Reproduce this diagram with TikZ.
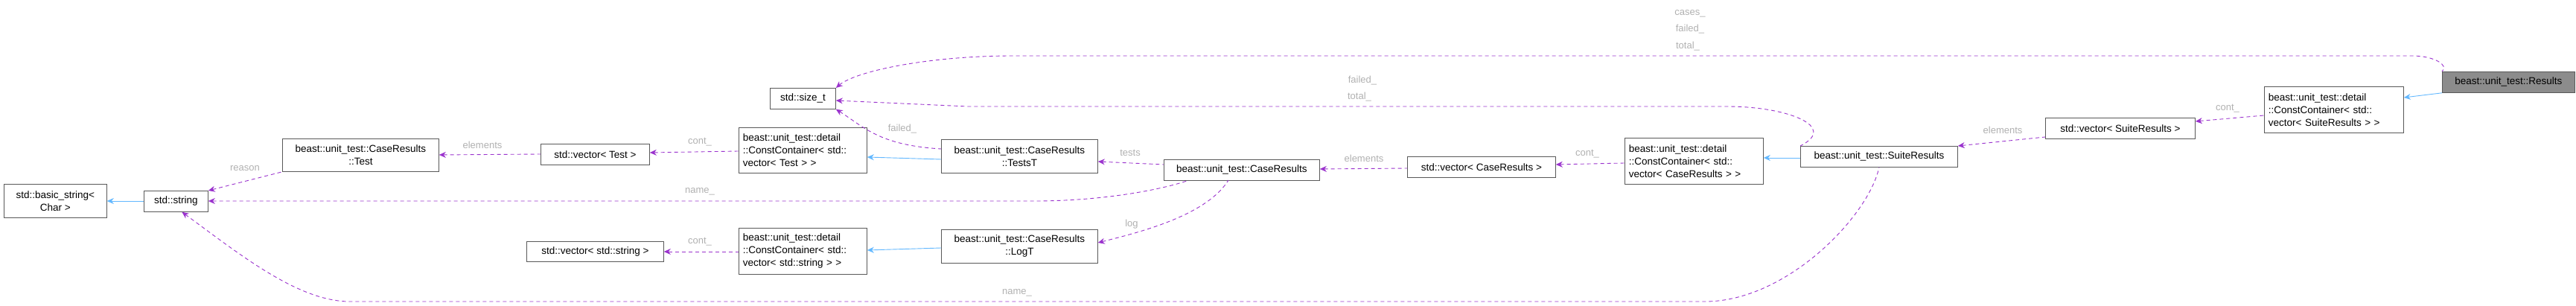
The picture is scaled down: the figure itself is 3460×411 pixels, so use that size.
\documentclass[tikz,border=0pt]{standalone}
\usepackage{fontspec}
\setmainfont{Liberation Sans}
\usetikzlibrary{arrows.meta}
\definecolor{dep}{HTML}{9A32CD}
\definecolor{inh}{HTML}{63B8FF}
\definecolor{lab}{HTML}{B0B0B0}
\begin{document}
\begin{tikzpicture}[x=1pt,y=-1pt,
  box/.style={draw=black!65,fill=white,line width=0.8pt,anchor=north west,inner sep=0pt,align=left,font=\fontsize{13.5}{17}\selectfont},
  dp/.style={draw=dep,dashed,dash pattern=on 5pt off 4pt,line width=0.9pt,{Stealth[length=9pt,width=8pt]}-},
  ih/.style={draw=inh,line width=0.9pt,{Stealth[length=9pt,width=8pt]}-},
  lb/.style={text=lab,font=\fontsize{13}{15}\selectfont,inner sep=0pt}]
\useasboundingbox (0,0) rectangle (3460,411);
\node[box,fill=black!45,minimum width=178,minimum height=28,align=center] (res) at (3280,96) {beast::unit\_test::Results};
\node[box,minimum width=187,minimum height=62,text width=186] (ccs) at (3041,116) {\hspace*{5pt}beast::unit\_test::detail\\\hspace*{5pt}::ConstContainer< std::\\\hspace*{5pt}vector< SuiteResults > >};
\node[box,minimum width=201,minimum height=28,align=center] (vs) at (2747,158) {std::vector< SuiteResults >};
\node[box,minimum width=211,minimum height=28,align=center] (sr) at (2418,196) {beast::unit\_test::SuiteResults};
\node[box,minimum width=186,minimum height=62,text width=185] (ccc) at (2182,185) {\hspace*{5pt}beast::unit\_test::detail\\\hspace*{5pt}::ConstContainer< std::\\\hspace*{5pt}vector< CaseResults > >};
\node[box,minimum width=199,minimum height=28,align=center] (vc) at (1890,210) {std::vector< CaseResults >};
\node[box,minimum width=209,minimum height=28,align=center] (cr) at (1563,214) {beast::unit\_test::CaseResults};
\node[box,minimum width=210,minimum height=45,align=center] (tt) at (1264,187) {beast::unit\_test::CaseResults\\::TestsT};
\node[box,minimum width=210,minimum height=45,align=center] (lt) at (1264,308) {beast::unit\_test::CaseResults\\::LogT};
\node[box,minimum width=88,minimum height=28,align=center] (sz) at (1034,118) {std::size\_t};
\node[box,minimum width=172,minimum height=61,text width=171] (cct) at (992,171) {\hspace*{5pt}beast::unit\_test::detail\\\hspace*{5pt}::ConstContainer< std::\\\hspace*{5pt}vector< Test > >};
\node[box,minimum width=146,minimum height=28,align=center] (vt) at (726,193) {std::vector< Test >};
\node[box,minimum width=210,minimum height=44,align=center] (ct) at (379,186) {beast::unit\_test::CaseResults\\::Test};
\node[box,minimum width=86,minimum height=28,align=center] (st) at (193,256) {std::string};
\node[box,minimum width=138,minimum height=45,align=center] (bs) at (5,247) {std::basic\_string<\\Char >};
\node[box,minimum width=184,minimum height=27,align=center] (vstr) at (707,324) {std::vector< std::string >};
\node[box,minimum width=172,minimum height=62,text width=171] (ccstr) at (992,306) {\hspace*{5pt}beast::unit\_test::detail\\\hspace*{5pt}::ConstContainer< std::\\\hspace*{5pt}vector< std::string > >};
% inheritance
\draw[ih] (ccs.east |- 0,131) -- (res.south west);
\draw[ih] (ccc.east |- 0,212) -- (sr.west |- 0,212);
\draw[ih] (cct.east |- 0,211) -- (tt.west |- 0,214);
\draw[ih] (ccstr.east |- 0,336) -- (lt.west |- 0,333);
\draw[ih] (bs.east |- 0,270) -- (st.west |- 0,270);
% dependencies
\draw[dp] (sz.north east) .. controls (1150,95) and (1250,75) .. (1360,75) -- (3240,75) .. controls (3270,75) and (3290,88) .. (res.north west);
\draw[dp] (sz.east |- 0,135) -- (1300,143) -- (2320,143) .. controls (2400,143) and (2470,170) .. (sr.north west);
\draw[dp] (sz.south east) .. controls (1160,170) and (1180,195) .. (tt.west |- 0,200);
\draw[dp] (sr.north east) -- (vs.west |- 0,184);
\draw[dp] (vs.east |- 0,163) -- (ccs.west |- 0,155);
\draw[dp] (vc.east |- 0,221) -- (ccc.west |- 0,219);
\draw[dp] (cr.east |- 0,227) -- (vc.west |- 0,226);
\draw[dp] (tt.east |- 0,217) -- (cr.west |- 0,221);
\draw[dp] (lt.east |- 0,326) .. controls (1530,312) and (1620,290) .. (1650,242);
\draw[dp] (st.east |- 0,270) -- (1390,270) .. controls (1480,270) and (1560,255) .. (1597,242);
\draw[dp] (vt.east |- 0,205) -- (cct.west |- 0,203);
\draw[dp] (ct.east |- 0,208) -- (vt.west |- 0,207);
\draw[dp] (st.north east) -- (ct.south west);
\draw[dp] (vstr.east |- 0,338) -- (ccstr.west |- 0,338);
\draw[dp] (st.south) ++(8,0) .. controls (320,340) and (400,405) .. (470,405) -- (2290,405) .. controls (2400,405) and (2510,290) .. (sr.south);
% labels
\node[lb] at (2270,18) {cases\_};
\node[lb] at (2270,39) {failed\_};
\node[lb] at (2267,62) {total\_};
\node[lb] at (1830,108) {failed\_};
\node[lb] at (1826,130) {total\_};
\node[lb] at (1212,173) {failed\_};
\node[lb] at (2690,175) {elements};
\node[lb] at (2992,146) {cont\_};
\node[lb] at (2132,207) {cont\_};
\node[lb] at (1832,213) {elements};
\node[lb] at (1518,205) {tests};
\node[lb] at (1520,301) {log};
\node[lb] at (940,257) {name\_};
\node[lb] at (940,191) {cont\_};
\node[lb] at (648,195) {elements};
\node[lb] at (329,226) {reason};
\node[lb] at (940,325) {cont\_};
\node[lb] at (1366,393) {name\_};
\end{tikzpicture}
\end{document}
